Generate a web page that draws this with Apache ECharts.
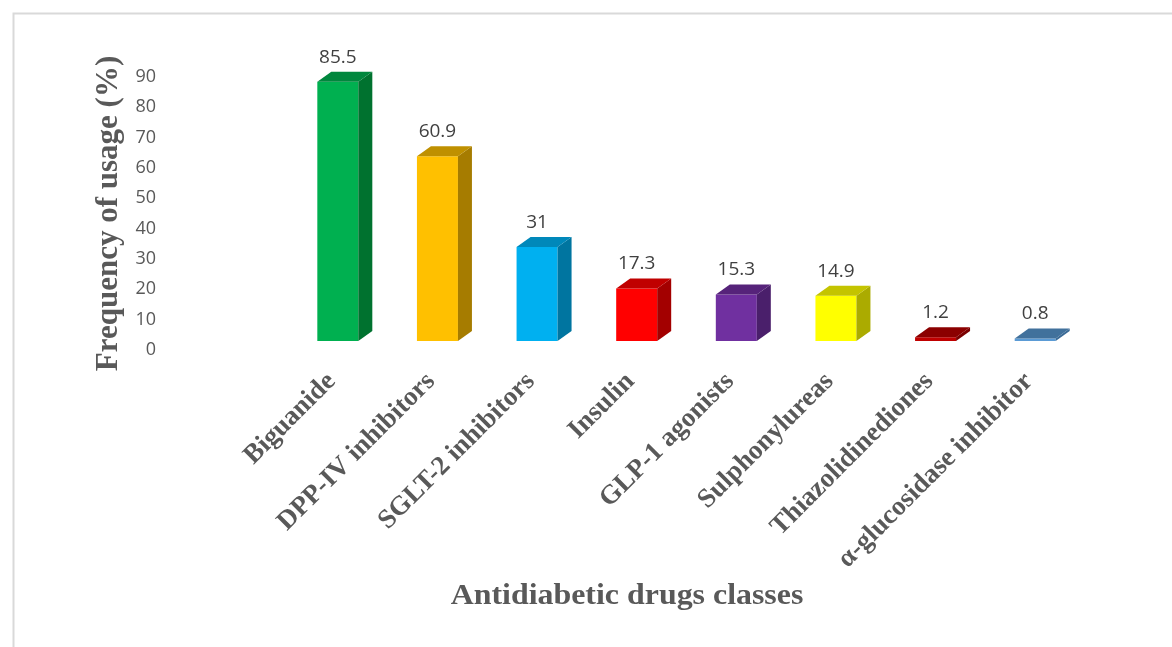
<!DOCTYPE html>
<html>
<head>
<meta charset="utf-8">
<script src="https://cdn.jsdelivr.net/npm/echarts@6/dist/echarts.min.js"></script>
<style>
html,body{margin:0;padding:0;background:#fff;}
#chart{width:1172px;height:647px;}
</style>
</head>
<body>
<div id="chart"></div>
<script>
const categories = ['Biguanide', 'DPP-IV inhibitors', 'SGLT-2 inhibitors', 'Insulin', 'GLP-1 agonists', 'Sulphonylureas', 'Thiazolidinediones', 'α-glucosidase inhibitor'];
const values = [85.5, 60.9, 31, 17.3, 15.3, 14.9, 1.2, 0.8];
const frontColors = ['#00B050', '#FFC000', '#00B0F0', '#FF0000', '#7030A0', '#FFFF00', '#C00000', '#5B9BD5'];
const topColors = ['#00873D', '#BF9000', '#0088BA', '#C00000', '#56237A', '#C4C400', '#8B0000', '#41719C'];
const sideColors = ['#00722F', '#A67C00', '#0075A0', '#A30000', '#4A1F6B', '#ABAB00', '#7A0000', '#3A6A96'];
const yMin = 0, yMax = 90, yInterval = 10;
const yAxisTitle = 'Frequency of usage (%)';
const xAxisTitle = 'Antidiabetic drugs classes';

const chart = echarts.init(document.getElementById('chart'), null, {renderer: 'canvas'});

function renderBar(params, api) {
  const i = api.value(0);
  const v = api.value(1);
  const base = api.coord([i, 0]);
  const top = api.coord([i, v]);
  const W = 41, DX = 14, DY = 10, LIFT = 9;
  const x0 = base[0] - W / 2, x1 = x0 + W;
  const yb = base[1] - LIFT, yt = top[1] - LIFT;
  return {
    type: 'group',
    children: [
      {type: 'rect', shape: {x: x0, y: yt, width: W, height: yb - yt}, style: {fill: frontColors[i]}},
      {type: 'polygon', shape: {points: [[x1, yt], [x1 + DX, yt - DY], [x1 + DX, yb - DY], [x1, yb]]}, style: {fill: sideColors[i]}},
      {type: 'polygon', shape: {points: [[x0, yt], [x0 + DX, yt - DY], [x1 + DX, yt - DY], [x1, yt]]}, style: {fill: topColors[i]}},
      {type: 'text', style: {text: String(values[i]), x: base[0], y: yt - DY - 5, align: 'center', verticalAlign: 'bottom', fontFamily: 'Open Sans', fontSize: 19, fill: '#404040'}}
    ]
  };
}

const option = {
  animation: false,
  backgroundColor: '#ffffff',
  grid: {left: 288, right: 87, top: 77, bottom: 297},
  xAxis: {
    type: 'category',
    data: categories,
    axisLine: {show: false},
    axisTick: {show: false},
    splitLine: {show: false},
    axisLabel: {
      interval: 0,
      rotate: 45,
      margin: 21,
      padding: [0, 9, 0, 0],
      fontFamily: 'Liberation Serif',
      fontWeight: 'bold',
      fontSize: 27,
      color: '#595959'
    }
  },
  yAxis: {
    type: 'value',
    min: yMin,
    max: yMax,
    interval: yInterval,
    axisLine: {show: false},
    axisTick: {show: false},
    splitLine: {show: false},
    axisLabel: {
      margin: 132,
      fontFamily: 'Open Sans',
      fontSize: 18,
      color: '#595959'
    },
    name: yAxisTitle,
    nameLocation: 'middle',
    nameGap: 162,
    nameTextStyle: {
      fontFamily: 'Liberation Serif',
      fontWeight: 'bold',
      fontSize: 31,
      color: '#595959'
    }
  },
  graphic: [
    {type: 'rect', left: 11, top: 11, shape: {width: 1200, height: 700}, style: {fill: 'none', stroke: '#D9D9D9', lineWidth: 2}, silent: true, z: -10},
    {type: 'text', x: 627, y: 597, scaleX: 1.1, style: {text: xAxisTitle, align: 'center', verticalAlign: 'middle', fontFamily: 'Liberation Serif', fontWeight: 'bold', fontSize: 29, fill: '#595959'}}
  ],
  series: [{
    type: 'custom',
    renderItem: renderBar,
    data: values.map((v, i) => [i, v]),
    encode: {x: 0, y: 1}
  }]
};
chart.setOption(option);
</script>
</body>
</html>
